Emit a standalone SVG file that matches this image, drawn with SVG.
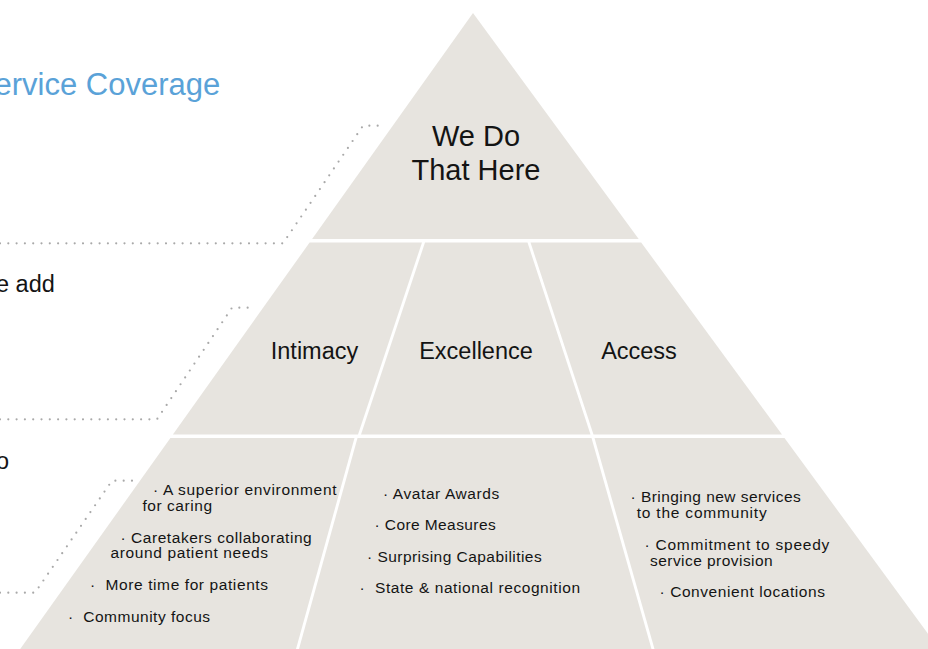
<svg xmlns="http://www.w3.org/2000/svg" width="928" height="649" viewBox="0 0 928 649">
<style>
.seg{fill:#e7e4df}
.t{font-family:"Liberation Sans",Arial,sans-serif;fill:#141414}
.b{font-size:15.5px}
.h{font-size:23.5px;text-anchor:middle}
.pre{white-space:pre}
.dot{fill:none;stroke:#a9a9a9;stroke-width:2.2;stroke-linecap:round;stroke-dasharray:0 8.3}
</style>
<rect width="928" height="649" fill="#ffffff"/>
<text class="t" x="-5.5" y="94.7" font-size="31" style="fill:#5aa2d8">ervice Coverage</text>
<text class="t" x="-4" y="292" font-size="23.5">e add</text>
<text class="t" x="-4" y="469" font-size="23.5">o</text>
<g id="connectors">
<path class="dot" d="M0,243.3 H283 L363,125.7 H379"/>
<path class="dot" d="M0,419.3 H157 L232,307.7 H252"/>
<path class="dot" d="M0,592.7 H35 L112,480.7 H132"/>
</g>
<g id="top">
<polygon class="seg" points="473,13 312.1,239 638.7,239"/>
<text class="t" x="476" y="145.7" font-size="29" text-anchor="middle">We Do</text>
<text class="t" x="476" y="180" font-size="29" text-anchor="middle">That Here</text>
</g>
<g id="intimacy">
<polygon class="seg" points="309.6,242.5 422,242.5 358,434.5 172.9,434.5"/>
<text class="t h" x="314.5" y="358.5">Intimacy</text>
</g>
<g id="excellence">
<polygon class="seg" points="425,242.5 527.5,242.5 590.5,434.5 361,434.5"/>
<text class="t h" x="476" y="358.5">Excellence</text>
</g>
<g id="access">
<polygon class="seg" points="530.5,242.5 641.2,242.5 782,434.5 593.5,434.5"/>
<text class="t h" x="639" y="358.5">Access</text>
</g>
<g id="intimacy-items">
<polygon class="seg" points="170.4,438 354.5,438 296,649 20.2,649"/>
<text class="t b" x="153" y="495" textLength="183.5">· A superior environment</text>
<text class="t b" x="142.5" y="511" textLength="69.5">for caring</text>
<text class="t b" x="120.5" y="543" textLength="191.2">· Caretakers collaborating</text>
<text class="t b" x="110.5" y="558" textLength="157.5">around patient needs</text>
<text class="t b pre" x="90" y="590" textLength="178">·  More time for patients</text>
<text class="t b pre" x="68" y="621.5" textLength="142">·  Community focus</text>
</g>
<g id="excellence-items">
<polygon class="seg" points="357.5,438 591.5,438 651.5,649 299,649"/>
<text class="t b" x="383" y="499" textLength="116.3">· Avatar Awards</text>
<text class="t b" x="374.5" y="530" textLength="121.2">· Core Measures</text>
<text class="t b" x="367" y="561.5" textLength="174.7">· Surprising Capabilities</text>
<text class="t b pre" x="359.5" y="593" textLength="220.5">·  State &amp; national recognition</text>
</g>
<g id="access-items">
<polygon class="seg" points="594.5,438 784.5,438 939.2,649 654.5,649"/>
<text class="t b" x="630.5" y="501.5" textLength="170.2">· Bringing new services</text>
<text class="t b" x="636.7" y="517.5" textLength="130">to the community</text>
<text class="t b" x="644.5" y="550" textLength="184.8">· Commitment to speedy</text>
<text class="t b" x="650" y="566" textLength="122.7">service provision</text>
<text class="t b" x="659.5" y="596.5" textLength="165.5">· Convenient locations</text>
</g>
</svg>
